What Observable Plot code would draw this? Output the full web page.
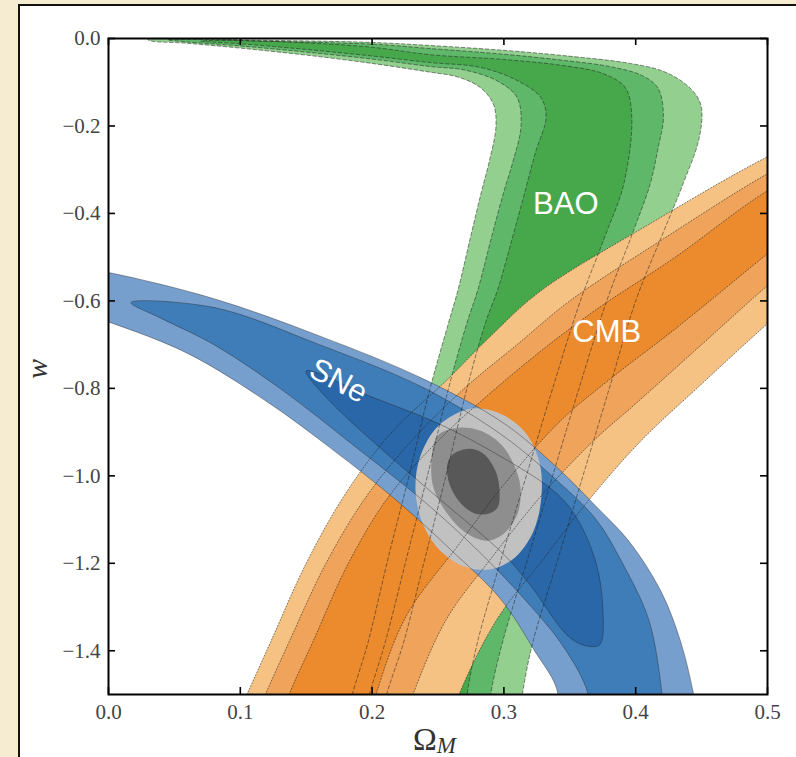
<!DOCTYPE html>
<html><head><meta charset="utf-8">
<script src="https://cdn.jsdelivr.net/npm/d3@7"></script>
<script src="https://cdn.jsdelivr.net/npm/@observablehq/plot@0.6"></script>
<style>
html,body{margin:0;padding:0;background:#f5ecd1;}
#wrap{position:relative;width:796px;height:757px;overflow:hidden;}
#panel{position:absolute;left:18px;top:4px;width:820px;height:820px;background:#fff;border-left:2px solid #111;border-top:2px solid #111;}
#chart{position:absolute;left:0;top:0;}
</style></head><body>
<div id="wrap"><div id="panel"></div><div id="chart"></div></div>
<script>
// ---- axes ----
const xTicks = [0, 0.1, 0.2, 0.3, 0.4, 0.5];
const yTicks = [0, -0.2, -0.4, -0.6, -0.8, -1.0, -1.2, -1.4];

// ---- BAO contours [Omega_M, w] (outer -> inner) ----
const bao3 = [[0.177,-1.6],[0.185,-1.5],[0.197,-1.38],[0.212,-1.19],[0.228,-1.0],[0.244,-0.8],[0.258,-0.65],[0.265,-0.577],[0.275,-0.45],[0.283,-0.35],[0.289,-0.28],[0.294,-0.2],[0.292,-0.15],[0.282,-0.112],[0.265,-0.088],[0.244,-0.077],[0.2,-0.057],[0.15,-0.038],[0.1,-0.022],[0.06,-0.011],[0.03,-0.003],[0.03,0.003],[0.1,-0.003],[0.2,-0.009],[0.244,-0.016],[0.3,-0.027],[0.345,-0.039],[0.396,-0.057],[0.42,-0.074],[0.436,-0.1],[0.446,-0.13],[0.45,-0.16],[0.448,-0.23],[0.436,-0.332],[0.42,-0.45],[0.40,-0.6],[0.38,-0.8],[0.36,-1.0],[0.34,-1.2],[0.322,-1.38],[0.314,-1.5],[0.31,-1.6]];
const bao2 = [[0.19,-1.6],[0.198,-1.5],[0.21,-1.38],[0.226,-1.19],[0.242,-1.0],[0.258,-0.8],[0.272,-0.65],[0.28,-0.577],[0.291,-0.45],[0.3,-0.35],[0.307,-0.28],[0.313,-0.2],[0.31,-0.135],[0.295,-0.097],[0.27,-0.072],[0.244,-0.064],[0.2,-0.047],[0.15,-0.031],[0.1,-0.017],[0.06,-0.008],[0.045,-0.003],[0.07,-0.002],[0.1,-0.005],[0.2,-0.013],[0.244,-0.023],[0.3,-0.036],[0.345,-0.05],[0.38,-0.064],[0.405,-0.085],[0.417,-0.114],[0.421,-0.18],[0.417,-0.25],[0.411,-0.332],[0.397,-0.45],[0.378,-0.6],[0.357,-0.8],[0.337,-1.0],[0.317,-1.2],[0.299,-1.38],[0.29,-1.5],[0.287,-1.6]];
const bao1 = [[0.203,-1.6],[0.211,-1.5],[0.224,-1.38],[0.24,-1.19],[0.256,-1.0],[0.272,-0.8],[0.286,-0.65],[0.295,-0.577],[0.307,-0.45],[0.316,-0.35],[0.324,-0.26],[0.332,-0.18],[0.328,-0.135],[0.31,-0.096],[0.282,-0.066],[0.244,-0.055],[0.2,-0.04],[0.15,-0.025],[0.1,-0.012],[0.07,-0.006],[0.09,-0.004],[0.15,-0.01],[0.2,-0.02],[0.244,-0.037],[0.3,-0.048],[0.345,-0.062],[0.375,-0.08],[0.392,-0.112],[0.397,-0.18],[0.391,-0.332],[0.377,-0.45],[0.358,-0.6],[0.337,-0.8],[0.317,-1.0],[0.297,-1.2],[0.28,-1.38],[0.272,-1.5],[0.268,-1.6]];

// ---- CMB contours ----
const cmb3 = [[0.09,-1.6],[0.105,-1.5],[0.123,-1.38],[0.15,-1.2],[0.18,-1.04],[0.215,-0.9],[0.256,-0.783],[0.29,-0.68],[0.328,-0.577],[0.41,-0.425],[0.497,-0.275],[0.55,-0.2],[0.55,-0.52],[0.5,-0.652],[0.45,-0.79],[0.404,-0.92],[0.364,-1.057],[0.33,-1.19],[0.295,-1.327],[0.266,-1.5],[0.255,-1.6]];
const cmb2 = [[0.105,-1.6],[0.119,-1.5],[0.137,-1.38],[0.165,-1.2],[0.195,-1.05],[0.23,-0.92],[0.27,-0.8],[0.31,-0.7],[0.35,-0.6],[0.42,-0.46],[0.5,-0.309],[0.55,-0.23],[0.55,-0.44],[0.5,-0.565],[0.45,-0.7],[0.40,-0.835],[0.368,-0.92],[0.33,-1.04],[0.29,-1.19],[0.256,-1.33],[0.231,-1.5],[0.22,-1.6]];
const cmb1 = [[0.125,-1.6],[0.137,-1.5],[0.155,-1.38],[0.182,-1.2],[0.212,-1.05],[0.25,-0.92],[0.29,-0.81],[0.33,-0.71],[0.37,-0.62],[0.43,-0.5],[0.5,-0.348],[0.55,-0.27],[0.55,-0.37],[0.5,-0.492],[0.43,-0.664],[0.38,-0.78],[0.343,-0.874],[0.3,-1.02],[0.265,-1.16],[0.226,-1.32],[0.203,-1.5],[0.195,-1.6]];

// ---- SNe contours ----
const sne3 = [[-0.05,-0.51],[0,-0.535],[0.08,-0.595],[0.16,-0.68],[0.24,-0.78],[0.3,-0.88],[0.34,-0.98],[0.37,-1.07],[0.395,-1.15],[0.419,-1.263],[0.434,-1.378],[0.444,-1.5],[0.45,-1.6],[0.333,-1.6],[0.341,-1.5],[0.322,-1.394],[0.297,-1.28],[0.26,-1.17],[0.22,-1.06],[0.17,-0.94],[0.12,-0.83],[0.06,-0.72],[0,-0.648],[-0.05,-0.6]];
const sne2 = [[0.017,-0.604],[0.08,-0.615],[0.16,-0.70],[0.24,-0.8],[0.3,-0.91],[0.34,-1.01],[0.37,-1.1],[0.39,-1.2],[0.41,-1.33],[0.42,-1.5],[0.422,-1.6],[0.366,-1.6],[0.364,-1.5],[0.345,-1.39],[0.315,-1.28],[0.28,-1.17],[0.24,-1.06],[0.19,-0.94],[0.13,-0.8],[0.08,-0.7],[0.04,-0.64]];
const sne1 = [[0.15,-0.76],[0.2,-0.82],[0.25,-0.88],[0.3,-0.96],[0.34,-1.04],[0.356,-1.1],[0.37,-1.2],[0.375,-1.3],[0.373,-1.385],[0.365,-1.39],[0.35,-1.37],[0.32,-1.25],[0.3,-1.18],[0.25,-1.05],[0.2,-0.92],[0.165,-0.82]];

// ---- combined contours ----
const all3 = [[0.2747,-0.8467],[0.2974,-0.8581],[0.3164,-0.9016],[0.3270,-0.9703],[0.3285,-1.0458],[0.3225,-1.1259],[0.3088,-1.1854],[0.2914,-1.2128],[0.2709,-1.2082],[0.2519,-1.1716],[0.2382,-1.1076],[0.2329,-1.0297],[0.2367,-0.9542],[0.2504,-0.8856]];
const all2 = [[0.2496,-0.9085],[0.2648,-0.8902],[0.2822,-0.8970],[0.2974,-0.9268],[0.3073,-0.9725],[0.3126,-1.0275],[0.3103,-1.0870],[0.2997,-1.1327],[0.2876,-1.1487],[0.2724,-1.1327],[0.2572,-1.0870],[0.2466,-1.0275],[0.2451,-0.9657]];
const all1 = [[0.2618,-0.9497],[0.2747,-0.9382],[0.2845,-0.9497],[0.2936,-0.9886],[0.2967,-1.0343],[0.2951,-1.0732],[0.2876,-1.0870],[0.2769,-1.0847],[0.2656,-1.0572],[0.2580,-1.0114],[0.2572,-0.9725]];

// ---- labels ----
const probeLabels = [
  {name: "BAO", x: 0.347, y: -0.378, rotate: 0},
  {name: "CMB", x: 0.378, y: -0.672, rotate: 0},
  {name: "SNe", x: 0.1745, y: -0.783, rotate: 28}
];

const colors = {
  bao: ["#93cf8f", "#5fb76a", "#47a84b"],
  cmb: ["#f5c283", "#f0a35b", "#eb8b2d"],
  sne: ["#779fcd", "#3e7db8", "#2a67a8"],
  all: ["#c1c1c1", "#8e8e8e", "#585858"]
};

const fillMark = (data, fill) => Plot.line(data, {x: d => d[0], y: d => d[1], fill, stroke: "none", curve: "catmull-rom-closed", clip: true});
const edgeMark = (data, dash, opacity) => Plot.line(data, {x: d => d[0], y: d => d[1], fill: "none", stroke: "#222", strokeWidth: 0.9, strokeOpacity: opacity, strokeDasharray: dash, curve: "catmull-rom-closed", clip: true});

const W = 796, H = 757, mL = 108, mR = 29, mT = 38, mB = 63;
const iW = W - mL - mR, iH = H - mT - mB;
const serif = "'Liberation Serif', 'Times New Roman', serif";

const chart = Plot.plot({
  width: W, height: H,
  marginLeft: mL, marginRight: mR, marginTop: mT, marginBottom: mB,
  style: {background: "transparent", fontFamily: serif, fontSize: "21px", color: "#444", overflow: "visible"},
  x: {domain: [0, 0.5], ticks: xTicks, tickFormat: d3.format(".1f"), tickSize: 0, tickPadding: 10, label: null},
  y: {domain: [-1.5, 0], ticks: yTicks, tickFormat: d3.format(".1f"), tickSize: 0, tickPadding: 8, label: null},
  marks: [
    fillMark(bao3, colors.bao[0]), fillMark(bao2, colors.bao[1]), fillMark(bao1, colors.bao[2]),
    fillMark(cmb3, colors.cmb[0]), fillMark(cmb2, colors.cmb[1]), fillMark(cmb1, colors.cmb[2]),
    fillMark(sne3, colors.sne[0]), fillMark(sne2, colors.sne[1]), fillMark(sne1, colors.sne[2]),
    fillMark(all3, colors.all[0]), fillMark(all2, colors.all[1]), fillMark(all1, colors.all[2]),
    edgeMark(bao3, "3.5,2.5", 0.6), edgeMark(bao2, "3.5,2.5", 0.6), edgeMark(bao1, "3.5,2.5", 0.6),
    edgeMark(cmb3, "1,2", 0.65), edgeMark(cmb2, "1,2", 0.65), edgeMark(cmb1, "1,2", 0.65),
    edgeMark(sne3, null, 0.45), edgeMark(sne2, null, 0.45), edgeMark(sne1, null, 0.45),
    Plot.text(probeLabels, {x: "x", y: "y", text: "name", rotate: "rotate", fill: "white", fontSize: 31, fontFamily: "'Liberation Sans', Arial, sans-serif"}),
    Plot.tickX(xTicks, {x: d => d, insetTop: iH - 7, stroke: "black", strokeWidth: 1.6}),
    Plot.tickX(xTicks, {x: d => d, insetBottom: iH - 7, stroke: "black", strokeWidth: 1.6}),
    Plot.tickY(yTicks, {y: d => d, insetRight: iW - 7, stroke: "black", strokeWidth: 1.6}),
    Plot.tickY(yTicks, {y: d => d, insetLeft: iW - 7, stroke: "black", strokeWidth: 1.6}),
    Plot.frame({stroke: "black", strokeWidth: 2})
  ]
});
document.getElementById("chart").appendChild(chart);

// axis titles
const svg = d3.select(chart);
const xt = svg.append("text").attr("x", 413).attr("y", 750).attr("text-anchor", "start")
  .attr("font-family", serif).attr("fill", "#333");
xt.append("tspan").attr("font-size", 32).text("Ω");
xt.append("tspan").attr("font-size", 23).attr("font-style", "italic").attr("dy", 3).text("M");
svg.append("text").attr("transform", "translate(47,369) rotate(-90)")
  .attr("text-anchor", "middle").attr("font-size", 30).attr("font-style", "italic")
  .attr("font-family", serif).attr("fill", "#333").text("w");
</script>
</body></html>
